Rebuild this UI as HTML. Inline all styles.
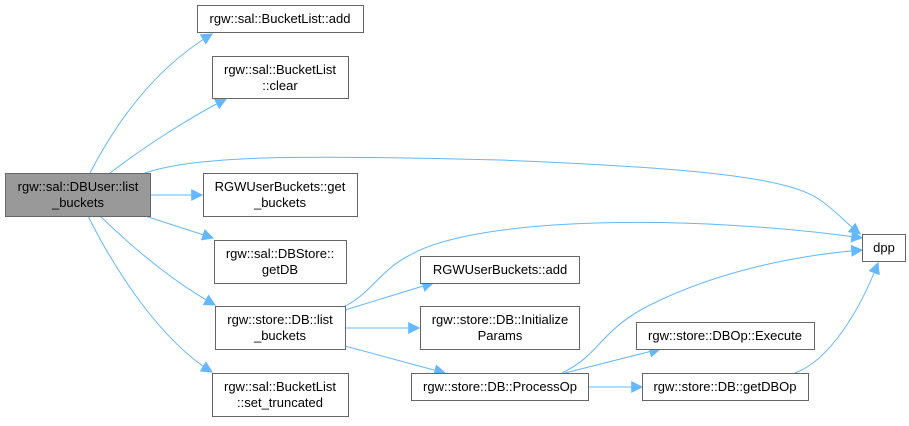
<!DOCTYPE html>
<html><head><meta charset="utf-8"><style>
html,body{margin:0;padding:0;background:#fff;}
svg text{font-family:"Liberation Sans",Arial,sans-serif;font-size:13px;fill:#000;}
</style></head><body>
<svg width="909" height="421" viewBox="0 0 909 421" xmlns="http://www.w3.org/2000/svg">
<defs><marker id="a" viewBox="0 0 10 10" refX="9" refY="5" markerWidth="12" markerHeight="12" markerUnits="userSpaceOnUse" orient="auto"><path d="M0,0 L10,5 L0,10 z" fill="#63b8ff"/></marker></defs>
<g fill="none" stroke="#63b8ff" stroke-width="1" marker-end="url(#a)">
<path d="M90,173 C120,115 160,65 212,34"/>
<path d="M110,173 C140,150 185,120 226,99"/>
<path d="M145,173 C200,155 300,155 500,160 C700,168 790,178 820,200 C835,210 845,222 860,234"/>
<path d="M150,195 L202,195"/>
<path d="M145,216 L213,238"/>
<path d="M100,216 C130,245 170,280 215,305"/>
<path d="M88,216 C115,270 160,340 212,372"/>
<path d="M343,307 C370,295 380,270 410,255 C480,215 700,215 862,238"/>
<path d="M345,310 L433,283"/>
<path d="M345,328 L419,328"/>
<path d="M345,346 L445,373"/>
<path d="M562,373 C600,355 600,330 650,305 C720,270 800,255 862,250"/>
<path d="M565,373 L660,349"/>
<path d="M588,387 L642,387"/>
<path d="M795,373 C830,360 860,310 878,263"/>
</g>
<g stroke="#666" stroke-width="1" fill="#fff">
<rect x="5.5" y="173.5" width="145" height="43" fill="#999"/>
<rect x="197.5" y="5.5" width="166" height="27"/>
<rect x="212.5" y="56.5" width="136" height="42"/>
<rect x="203.5" y="173.5" width="154" height="43"/>
<rect x="214.5" y="240.5" width="132" height="43"/>
<rect x="215.5" y="306.5" width="130" height="43"/>
<rect x="212.5" y="373.5" width="136" height="43"/>
<rect x="420.5" y="256.5" width="159" height="27"/>
<rect x="420.5" y="306.5" width="159" height="43"/>
<rect x="411.5" y="373.5" width="177" height="27"/>
<rect x="636.5" y="322.5" width="178" height="27"/>
<rect x="642.5" y="373.5" width="166" height="27"/>
<rect x="862.5" y="234.5" width="43" height="27"/>
</g>
<g text-anchor="middle">
<text x="78" y="191">rgw::sal::DBUser::list</text><text x="78" y="207">_buckets</text>
<text x="280" y="23">rgw::sal::BucketList::add</text>
<text x="280" y="74">rgw::sal::BucketList</text><text x="280" y="90">::clear</text>
<text x="280" y="191">RGWUserBuckets::get</text><text x="280" y="207">_buckets</text>
<text x="280" y="258">rgw::sal::DBStore::</text><text x="280" y="274">getDB</text>
<text x="280" y="324">rgw::store::DB::list</text><text x="280" y="340">_buckets</text>
<text x="280" y="391">rgw::sal::BucketList</text><text x="280" y="407">::set_truncated</text>
<text x="500" y="274">RGWUserBuckets::add</text>
<text x="500" y="324">rgw::store::DB::Initialize</text><text x="500" y="340">Params</text>
<text x="500" y="391">rgw::store::DB::ProcessOp</text>
<text x="725" y="340">rgw::store::DBOp::Execute</text>
<text x="725" y="391">rgw::store::DB::getDBOp</text>
<text x="884" y="252">dpp</text>
</g>
</svg>
</body></html>
